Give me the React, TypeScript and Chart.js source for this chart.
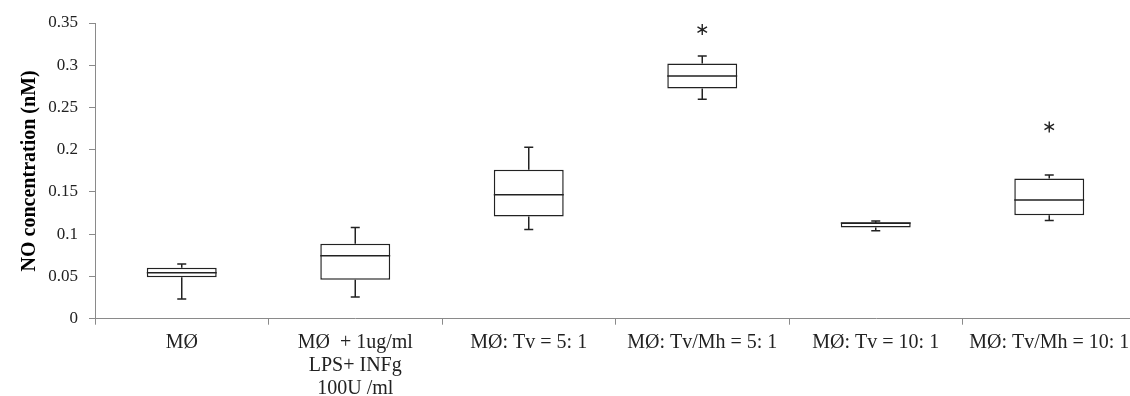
import React, { useEffect, useRef } from "react";
import { Chart, registerables } from "chart.js";

Chart.register(...registerables);

const categories: (string | string[])[] = [
  "MØ",
  ["MØ  + 1ug/ml", "LPS+ INFg", "100U /ml"],
  "MØ: Tv = 5: 1",
  "MØ: Tv/Mh = 5: 1",
  "MØ: Tv = 10: 1",
  "MØ: Tv/Mh = 10: 1",
];
const minValues = [0.0233, 0.0257, 0.1057, 0.2598, 0.104, 0.1163];
const q1Values = [0.049, 0.0461, 0.1211, 0.2724, 0.108, 0.1223];
const medianValues = [0.0544, 0.0745, 0.1466, 0.2873, 0.1132, 0.1404];
const q3Values = [0.0603, 0.0887, 0.1762, 0.302, 0.114, 0.166];
const maxValues = [0.0647, 0.108, 0.203, 0.311, 0.1155, 0.17];
const starValues: (number | null)[] = [null, null, null, 0.3422, null, 0.227];
const yTicks = [0, 0.05, 0.1, 0.15, 0.2, 0.25, 0.3, 0.35];

const INK = "#222222";
const AXIS = "#8a8a8a";

const boxPlugin = {
  id: "boxWhiskers",
  afterDatasetsDraw(chart: any) {
    const ctx = chart.ctx;
    const xs = chart.scales.x;
    const ys = chart.scales.y;
    const meta = chart.getDatasetMeta(0);
    ctx.save();
    ctx.strokeStyle = INK;
    ctx.lineWidth = 1.5;
    for (let i = 0; i < categories.length; i++) {
      const x = xs.getPixelForValue(i);
      const half = meta.data[i].width / 2;
      const yMin = ys.getPixelForValue(minValues[i]);
      const yQ1 = ys.getPixelForValue(q1Values[i]);
      const yMed = ys.getPixelForValue(medianValues[i]);
      const yQ3 = ys.getPixelForValue(q3Values[i]);
      const yMax = ys.getPixelForValue(maxValues[i]);
      const cap = 4.5;
      ctx.beginPath();
      ctx.moveTo(x, yQ3);
      ctx.lineTo(x, yMax);
      ctx.moveTo(x - cap, yMax);
      ctx.lineTo(x + cap, yMax);
      ctx.moveTo(x, yQ1);
      ctx.lineTo(x, yMin);
      ctx.moveTo(x - cap, yMin);
      ctx.lineTo(x + cap, yMin);
      ctx.moveTo(x - half, yMed);
      ctx.lineTo(x + half, yMed);
      ctx.stroke();
      const s = starValues[i];
      if (s !== null) {
        const ySt = ys.getPixelForValue(s);
        const r = 5.5;
        ctx.lineWidth = 1.4;
        ctx.beginPath();
        for (const ang of [90, 30, 150]) {
          const a = (ang * Math.PI) / 180;
          ctx.moveTo(x - r * Math.cos(a), ySt - r * Math.sin(a));
          ctx.lineTo(x + r * Math.cos(a), ySt + r * Math.sin(a));
        }
        ctx.stroke();
        ctx.lineWidth = 1.5;
      }
    }
    ctx.restore();
  },
};

export default function App() {
  const ref = useRef<HTMLCanvasElement>(null);
  useEffect(() => {
    if (!ref.current) return;
    const chart = new Chart(ref.current, {
      type: "bar",
      data: {
        labels: categories as any,
        datasets: [
          {
            data: q1Values.map((q, i) => [q, q3Values[i]]) as any,
            backgroundColor: "#ffffff",
            borderColor: INK,
            borderWidth: 1.5,
            borderSkipped: false,
            categoryPercentage: 1,
            barPercentage: 0.403,
          },
        ],
      },
      options: {
        responsive: false,
        animation: false,
        layout: { padding: { top: 23, right: 4, bottom: 0, left: 0 } },
        plugins: { legend: { display: false }, tooltip: { enabled: false } },
        scales: {
          x: {
            offset: true,
            grid: {
              display: true,
              offset: true,
              drawOnChartArea: false,
              drawTicks: true,
              tickLength: 6,
              color: AXIS,
            },
            border: { display: true, color: AXIS, width: 1 },
            ticks: {
              autoSkip: false,
              maxRotation: 0,
              minRotation: 0,
              padding: 7,
              color: INK,
              font: { family: "'Liberation Serif', serif", size: 20, lineHeight: 1.15 },
            },
            afterFit(scale: any) {
              scale.height = 77.3;
            },
          },
          y: {
            min: 0,
            max: 0.35,
            afterBuildTicks(scale: any) {
              scale.ticks = yTicks.map((v) => ({ value: v }));
            },
            grid: {
              display: true,
              drawOnChartArea: false,
              drawTicks: true,
              tickLength: 6,
              color: AXIS,
            },
            border: { display: true, color: AXIS, width: 1 },
            ticks: {
              padding: 11,
              color: INK,
              font: { family: "'Liberation Serif', serif", size: 17 },
              callback: (v: any) => String(parseFloat(Number(v).toFixed(2))),
            },
            title: {
              display: true,
              text: "NO concentration (nM)",
              color: "#000000",
              padding: { top: 18, bottom: 4 },
              font: { family: "'Liberation Serif', serif", size: 20, weight: "bold" },
            },
            afterFit(scale: any) {
              scale.width = 95;
            },
          },
        },
      },
      plugins: [boxPlugin],
    });
    return () => chart.destroy();
  }, []);
  return (
    <div
      style={{
        position: "absolute",
        left: 0,
        top: 0,
        width: 1130,
        height: 396,
        overflow: "hidden",
        background: "#ffffff",
      }}
    >
      <canvas ref={ref} width={1140} height={396} style={{ display: "block" }} />
    </div>
  );
}
